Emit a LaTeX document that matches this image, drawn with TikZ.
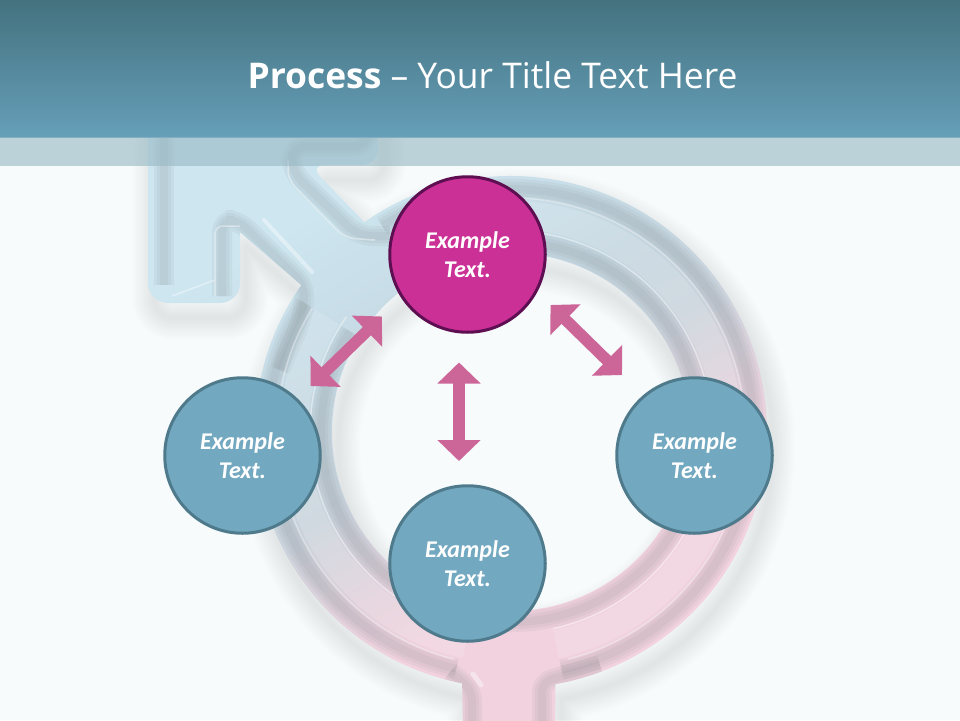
\documentclass[tikz,border=0pt]{standalone}
\usepackage{fontspec}
\setmainfont{Carlito}
\newfontfamily\titlefont{Open Sans}
\usetikzlibrary{arrows.meta, calc}
\definecolor{pageBg}{HTML}{F7FBFC}
\definecolor{headTop}{HTML}{44727F}
\definecolor{headBot}{HTML}{669FB9}
\definecolor{bandCol}{HTML}{96B8C3}
\definecolor{symBlue}{HTML}{CDE6F0}
\definecolor{symGrey}{HTML}{CAD3DC}
\definecolor{symCool}{HTML}{C4D6E0}
\definecolor{symRose}{HTML}{E4D1DC}
\definecolor{symPink}{HTML}{F1D2DE}
\definecolor{stepFill}{HTML}{73A9C0}
\definecolor{stepLine}{HTML}{4F7A8C}
\definecolor{mainFill}{HTML}{CB3096}
\definecolor{mainLine}{HTML}{5E0F52}
\definecolor{linkCol}{HTML}{CC6699}
\pgfdeclareverticalshading{symfade}{100bp}{color(0bp)=(symPink); color(36bp)=(symPink); color(41bp)=(symRose);
  color(49bp)=(symGrey); color(56bp)=(symCool); color(71bp)=(symBlue); color(100bp)=(symBlue)}
\tikzset{
  stepnode/.style={circle, draw=stepLine, fill=stepFill, line width=3pt, minimum size=155.5pt, inner sep=0pt,
    align=center, text=white, font=\fontsize{24}{29}\selectfont\bfseries\itshape},
  mainnode/.style={stepnode, draw=mainLine, fill=mainFill},
  linkarrow/.style={draw=linkCol, line width=11.5pt, {Triangle[length=21pt,width=42pt]}-{Triangle[length=21pt,width=42pt]}},
  bevel/.style={line width=#1, draw=black!40!symGrey, draw opacity=.08},
  shine/.style={line width=#1, draw=white, draw opacity=.4},
  lighten/.style={line width=#1, draw=white, draw opacity=.14}
}
% outline of the big symbol behind the diagram
\newcommand\symbolpath{
  ($(511,432)+(-125:256)$) arc[start angle=-125, end angle=80, radius=256]
  -- (555,730) -- (463,730) -- ($(511,432)+(101:256)$)
  arc[start angle=101, end angle=215, radius=256]
  -- (240,232)
  [rounded corners=20pt] -- (240,303) -- (148,303) [sharp corners] -- (148,120)
  -- (378,120) [rounded corners=16pt] -- (378,165) -- (309,165) [sharp corners] -- cycle
  (511,432) circle (179)
}
\begin{document}
\begin{tikzpicture}[x=1pt, y=-1pt]
\useasboundingbox (0,0) rectangle (960,720);
\fill[pageBg] (0,0) rectangle (960,720);
% soft shadow
\foreach \w in {44,40,...,4} {
  \begin{scope}[shift={(6,15)}]
    \draw[line width=\w pt, draw=black!70!teal, draw opacity=.009, line join=round] \symbolpath;
  \end{scope}
}
\shade[even odd rule, shading=symfade, shading angle=30] \symbolpath;
% bands on the ring and the arms
\begin{scope}[even odd rule]
  \clip \symbolpath;
  \foreach \w in {8,14,20} {
    \draw[bevel=\w pt] ($(511,432)+(-122:190)$) arc[start angle=-122, end angle=212, radius=190];
    \draw[bevel=\w pt] ($(511,432)+(-122:243)$) arc[start angle=-122, end angle=78, radius=243];
    \draw[bevel=\w pt] ($(511,432)+(103:243)$) arc[start angle=103, end angle=212, radius=243];
    \draw[bevel=\w pt] (164,120) -- (164,285);
    \draw[bevel=\w pt, rounded corners=14pt] (368,120) -- (368,146) -- (292,146) -- (292,172) -- (358,236) -- (390,236);
    \draw[bevel=\w pt, rounded corners=12pt] (222,296) -- (222,220) -- (238,220) -- (305,286) -- (302,320) -- (280,370);
    \draw[bevel=\w pt, rounded corners=10pt] (472,730) -- (472,690) -- (450,672);
    \draw[bevel=\w pt, rounded corners=10pt] (542,730) -- (542,682) -- (600,665);
  }
  \draw[lighten=28pt] ($(511,432)+(-122:217)$) arc[start angle=-122, end angle=78, radius=217];
  \draw[lighten=28pt] ($(511,432)+(102:217)$) arc[start angle=102, end angle=212, radius=217];
  \draw[shine=1.5pt] ($(511,432)+(-120:201)$) arc[start angle=-120, end angle=78, radius=201];
  \draw[shine=1.5pt] ($(511,432)+(102:201)$) arc[start angle=102, end angle=215, radius=201];
  \draw[shine=1.5pt] ($(511,432)+(-118:234)$) arc[start angle=-118, end angle=76, radius=234];
  \draw[shine=1.5pt] ($(511,432)+(104:234)$) arc[start angle=104, end angle=212, radius=234];
  \draw[shine=1.5pt, rounded corners=10pt] (288,160) -- (288,180) -- (345,238) -- (375,240);
  \draw[shine=4pt, line cap=round] (264,220) -- (312,272);
  \draw[shine=1.5pt, rounded corners=8pt] (215,296) -- (215,226) -- (240,226);
  \draw[shine=1.5pt] (172,296) -- (215,280);
  \draw[shine=5pt, line cap=round] (473,674) -- (481,685);
\end{scope}
% title bar
\shade[top color=headTop, bottom color=headBot] (0,0) rectangle (960,137);
\fill[bandCol, fill opacity=.6] (0,137) rectangle (960,166);
\node (titleText) at (492.5,75) {\titlefont\fontsize{35.4}{40}\selectfont\color{white}\textbf{Process} – Your Title Text Here};
% steps
\node[mainnode] (top) at (467.5,254.5) {Example\\Text.};
\node[stepnode] (left) at (242.5,455.5) {Example\\Text.};
\node[stepnode] (right) at (694.5,455.5) {Example\\Text.};
\node[stepnode] (bottom) at (467.5,563.5) {Example\\Text.};
% double arrows between the steps
\coordinate (leftA) at (310.5,386);
\coordinate (leftB) at (382,316.5);
\coordinate (rightA) at (550.5,305);
\coordinate (rightB) at (622,375);
\coordinate (midA) at (459,362.5);
\coordinate (midB) at (459,461);
\draw[linkarrow] (leftA) -- (leftB);
\draw[linkarrow] (rightA) -- (rightB);
\draw[linkarrow] (midA) -- (midB);
\end{tikzpicture}
\end{document}
